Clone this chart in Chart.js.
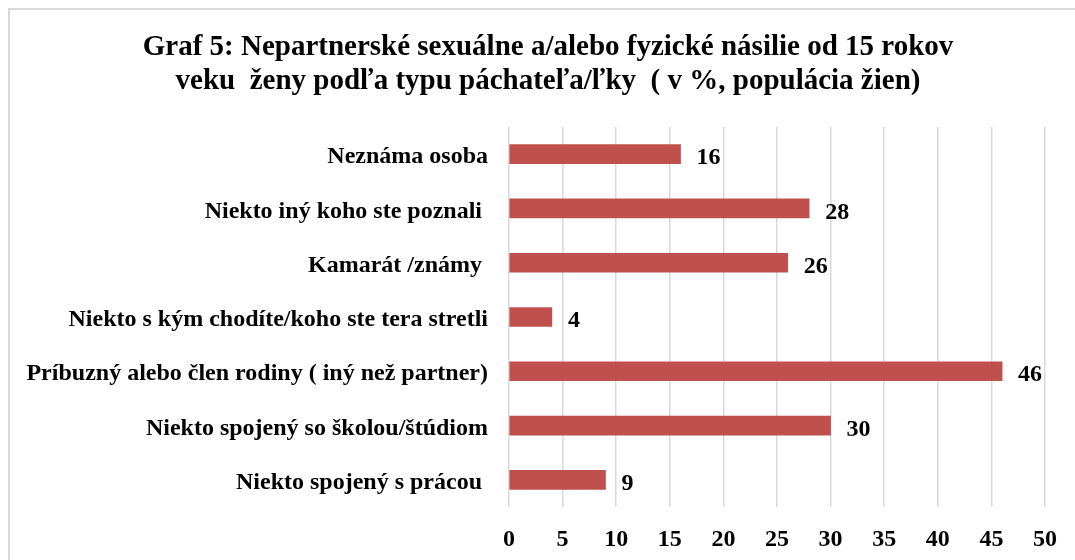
<!DOCTYPE html>
<html>
<head>
<meta charset="utf-8">
<script src="https://cdn.jsdelivr.net/npm/chart.js@4"></script>
<style>
  html, body { margin: 0; padding: 0; background: #fff; overflow: hidden; }
  #wrap { position: relative; width: 1075px; height: 560px; }
  #frame { position: absolute; left: 8px; top: 8px; width: 1100px; height: 600px; border: 2px solid #d9d9d9; }
  #chart { position: absolute; left: 0; top: 0; }
</style>
</head>
<body>
<div id="wrap">
  <div id="frame"></div>
  <canvas id="chart" width="1075" height="560"></canvas>
</div>
<script>
const categories = [
    'Neznáma osoba',
    'Niekto iný koho ste poznali ',
    'Kamarát /známy ',
    'Niekto s kým chodíte/koho ste tera stretli',
    'Príbuzný alebo člen rodiny ( iný než partner)',
    'Niekto spojený so školou/štúdiom',
    'Niekto spojený s prácou '
];
const values = [16, 28, 26, 4, 46, 30, 9];
const titleLines = [
    'Graf 5: Nepartnerské sexuálne a/alebo fyzické násilie od 15 rokov',
    'veku  ženy podľa typu páchateľa/ľky  ( v %, populácia žien)'
];
const xMin = 0, xMax = 50, xStep = 5;

const FONT = "'Liberation Serif', 'Times New Roman', serif";

// nadpis grafu (vycentrovaný ako v origináli, nie podľa celého plátna)
const chartTitle = {
    id: 'chartTitle',
    afterDraw(chart) {
        const ctx = chart.ctx;
        ctx.save();
        ctx.font = 'bold 29px ' + FONT;
        ctx.fillStyle = '#000';
        ctx.textAlign = 'center';
        ctx.textBaseline = 'middle';
        titleLines.forEach((line, i) => ctx.fillText(line, 548, 48 + i * 34));
        ctx.restore();
    }
};

// hodnoty za koncom stĺpca
const valueLabels = {
    id: 'valueLabels',
    afterDatasetsDraw(chart) {
        const ctx = chart.ctx;
        const meta = chart.getDatasetMeta(0);
        ctx.save();
        ctx.font = 'bold 24px ' + FONT;
        ctx.fillStyle = '#000';
        ctx.textAlign = 'left';
        ctx.textBaseline = 'middle';
        meta.data.forEach((bar, i) => {
            ctx.fillText(String(values[i]), bar.x + 16, bar.y + 4);
        });
        ctx.restore();
    }
};

new Chart(document.getElementById('chart'), {
    type: 'bar',
    data: {
        labels: categories,
        datasets: [{
            data: values,
            backgroundColor: '#C0504D',
            barThickness: 19
        }]
    },
    options: {
        indexAxis: 'y',
        responsive: false,
        animation: false,
        layout: { padding: { top: 127, left: 0, right: 30, bottom: 0 } },
        plugins: {
            legend: { display: false },
            tooltip: { enabled: false },
            title: { display: false }
        },
        scales: {
            x: {
                min: xMin,
                max: xMax,
                ticks: {
                    stepSize: xStep,
                    color: '#000',
                    padding: 18,
                    font: { family: FONT, size: 24, weight: 'bold' }
                },
                grid: { color: '#d9d9d9', lineWidth: 1.5, drawTicks: false },
                border: { display: false },
                afterFit(scale) { scale.height = 53; }
            },
            y: {
                ticks: {
                    color: '#000',
                    padding: 21,
                    labelOffset: 3,
                    font: { family: FONT, size: 24, weight: 'bold' }
                },
                grid: { display: false, drawTicks: false },
                border: { display: false },
                afterFit(scale) { scale.width = 509; }
            }
        }
    },
    plugins: [chartTitle, valueLabels]
});
</script>
</body>
</html>
